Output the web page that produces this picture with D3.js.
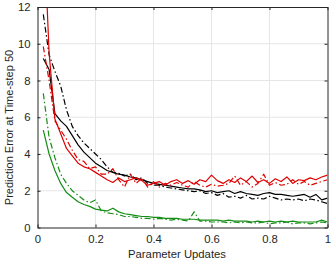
<!DOCTYPE html>
<html><head><meta charset="utf-8">
<script src="https://cdn.jsdelivr.net/npm/d3@7"></script>
<style>body{margin:0;background:#fff}svg{display:block}text{font-family:"Liberation Sans",Arial,sans-serif}</style>
</head><body><svg id="c" width="336" height="263"></svg>
<script>
const updates = [0.02,0.04,0.06,0.08,0.10,0.12,0.14,0.16,0.18,0.20,0.22,0.24,0.26,0.28,0.30,0.32,0.34,0.36,0.38,0.40,0.42,0.44,0.46,0.48,0.50,0.52,0.54,0.56,0.58,0.60,0.62,0.64,0.66,0.68,0.70,0.72,0.74,0.76,0.78,0.80,0.82,0.84,0.86,0.88,0.90,0.92,0.94,0.96,0.98,1.00];
const blackSolid = [9.2,8.6,6.2,5.8,5.5,5.0,4.5,4.1,3.8,3.5,3.3,3.1,3.0,2.9,2.85,2.75,2.7,2.6,2.5,2.4,2.35,2.3,2.25,2.2,2.15,2.1,2.1,2.05,1.95,2.0,1.9,1.95,2.0,1.85,1.95,1.85,1.8,1.75,1.85,1.9,1.8,1.8,1.75,1.7,1.75,1.8,1.65,1.8,1.5,1.6];
const blackDashDot = [11.6,9.4,8.5,7.7,6.4,5.5,5.0,4.6,4.3,4.0,3.7,3.3,3.0,2.95,2.8,2.9,2.6,2.7,2.4,2.3,2.3,2.2,2.15,2.1,2.05,2.0,1.95,2.0,1.85,1.9,1.75,1.85,1.65,1.7,1.6,1.75,1.55,1.6,1.55,1.7,1.6,1.5,1.55,1.5,1.55,1.45,1.55,1.5,1.4,1.3];
const redSolid = [17,9.5,5.9,5.1,4.3,3.9,3.5,3.3,3.2,3.0,2.8,2.6,2.45,2.7,2.5,2.6,2.7,2.55,2.3,2.4,2.5,2.3,2.5,2.6,2.4,2.55,2.35,2.6,2.5,2.85,2.55,2.4,2.6,2.45,2.7,2.5,2.8,2.45,2.6,2.4,2.65,2.5,2.75,2.4,2.6,2.55,2.7,2.6,2.75,2.85];
const redDashDot = [9.85,8.0,5.8,5.3,4.8,4.2,3.7,3.6,3.2,3.3,2.9,2.9,3.2,2.6,2.2,2.9,2.4,2.7,2.2,2.5,2.2,2.4,2.3,2.45,2.3,2.2,2.5,2.3,2.2,2.35,2.25,2.3,2.4,2.8,2.3,2.5,2.2,2.4,2.9,2.3,2.45,2.3,2.35,2.6,2.35,2.5,2.3,2.4,2.5,2.6];
const greenSolid = [5.3,4.0,3.1,2.4,1.9,1.65,1.4,1.25,1.15,1.0,0.95,0.9,1.05,0.85,0.75,0.7,0.65,0.6,0.6,0.55,0.55,0.5,0.5,0.5,0.45,0.45,0.45,0.4,0.4,0.4,0.4,0.35,0.4,0.35,0.35,0.35,0.3,0.35,0.3,0.35,0.3,0.35,0.3,0.35,0.3,0.3,0.3,0.3,0.4,0.3];
const greenDashDot = [7.3,4.9,3.8,2.9,2.4,2.0,1.75,1.5,1.35,1.5,0.9,0.8,0.75,0.7,0.6,0.6,0.55,0.5,0.5,0.45,0.5,0.45,0.4,0.45,0.4,0.35,0.85,0.35,0.35,0.3,0.3,0.3,0.25,0.3,0.25,0.3,0.25,0.25,0.3,0.2,0.25,0.25,0.3,0.2,0.25,0.25,0.2,0.25,0.3,0.25];
const xTicks = [0,0.2,0.4,0.6,0.8,1];
const yTicks = [0,2,4,6,8,10,12];
const xLabel = "Parameter Updates";
const yLabel = "Prediction Error at Time-step 50";

const series = [
  {v: blackSolid, c: "#000000", dash: null},
  {v: blackDashDot, c: "#000000", dash: "6,2.5,1.5,2.5"},
  {v: redSolid, c: "#e00000", dash: null},
  {v: redDashDot, c: "#e00000", dash: "6,2.5,1.5,2.5"},
  {v: greenSolid, c: "#168d16", dash: null},
  {v: greenDashDot, c: "#168d16", dash: "6,2.5,1.5,2.5"}
];

const L = 37.5, R = 327.5, T = 7, B = 227.5;
const svg = d3.select("#c");
const x = d3.scaleLinear().domain([0,1]).range([L,R]);
const y = d3.scaleLinear().domain([0,12]).range([B,T]);

// grid
const g = svg.append("g");
g.selectAll(".gx").data(xTicks.slice(1,-1)).enter().append("line")
  .attr("x1", d=>x(d)).attr("x2", d=>x(d)).attr("y1", T).attr("y2", B)
  .attr("stroke", "#e6e6e6").attr("stroke-width", 1);
g.selectAll(".gy").data(yTicks.slice(1,-1)).enter().append("line")
  .attr("y1", d=>y(d)).attr("y2", d=>y(d)).attr("x1", L).attr("x2", R)
  .attr("stroke", "#e6e6e6").attr("stroke-width", 1);

svg.append("clipPath").attr("id","clip").append("rect")
  .attr("x", L).attr("y", T).attr("width", R-L).attr("height", B-T);

const line = d3.line().x((d,i)=>x(updates[i])).y(d=>y(d));
svg.append("g").attr("clip-path","url(#clip)").selectAll("path").data(series).enter().append("path")
  .attr("d", d=>line(d.v)).attr("fill","none").attr("stroke", d=>d.c)
  .attr("stroke-width", 1.2).attr("stroke-dasharray", d=>d.dash)
  .attr("stroke-linejoin","round");

const axCol = "#262626";
const fmt = d => d===0 ? "0" : d===1 ? "1" : String(d);
const xa = svg.append("g").attr("transform", `translate(0,${B})`)
  .call(d3.axisBottom(x).tickValues(xTicks).tickFormat(fmt).tickSizeInner(-3).tickSizeOuter(0).tickPadding(7));
const ya = svg.append("g").attr("transform", `translate(${L},0)`)
  .call(d3.axisLeft(y).tickValues(yTicks).tickSizeInner(-3).tickSizeOuter(0).tickPadding(7));
const xt = svg.append("g").attr("transform", `translate(0,${T})`)
  .call(d3.axisTop(x).tickValues(xTicks).tickFormat("").tickSizeInner(-3).tickSizeOuter(0));
const yr = svg.append("g").attr("transform", `translate(${R},0)`)
  .call(d3.axisRight(y).tickValues(yTicks).tickFormat("").tickSizeInner(-3).tickSizeOuter(0));
[xa,ya,xt,yr].forEach(a=>{
  a.selectAll("path").attr("stroke", axCol).attr("stroke-width", 1);
  a.selectAll("line").attr("stroke", axCol);
  a.selectAll("text").attr("fill", axCol).style("font-size","11.3px").style("font-family","'Liberation Sans',Arial,sans-serif");
});

svg.append("text").attr("x", 177).attr("y", 258).attr("text-anchor","middle")
  .attr("fill", axCol).style("font-size","11.3px").text(xLabel);
svg.append("text").attr("transform", `translate(12.5,127.5) rotate(-90)`).attr("text-anchor","middle")
  .attr("fill", axCol).style("font-size","11px").text(yLabel);
</script></body></html>
